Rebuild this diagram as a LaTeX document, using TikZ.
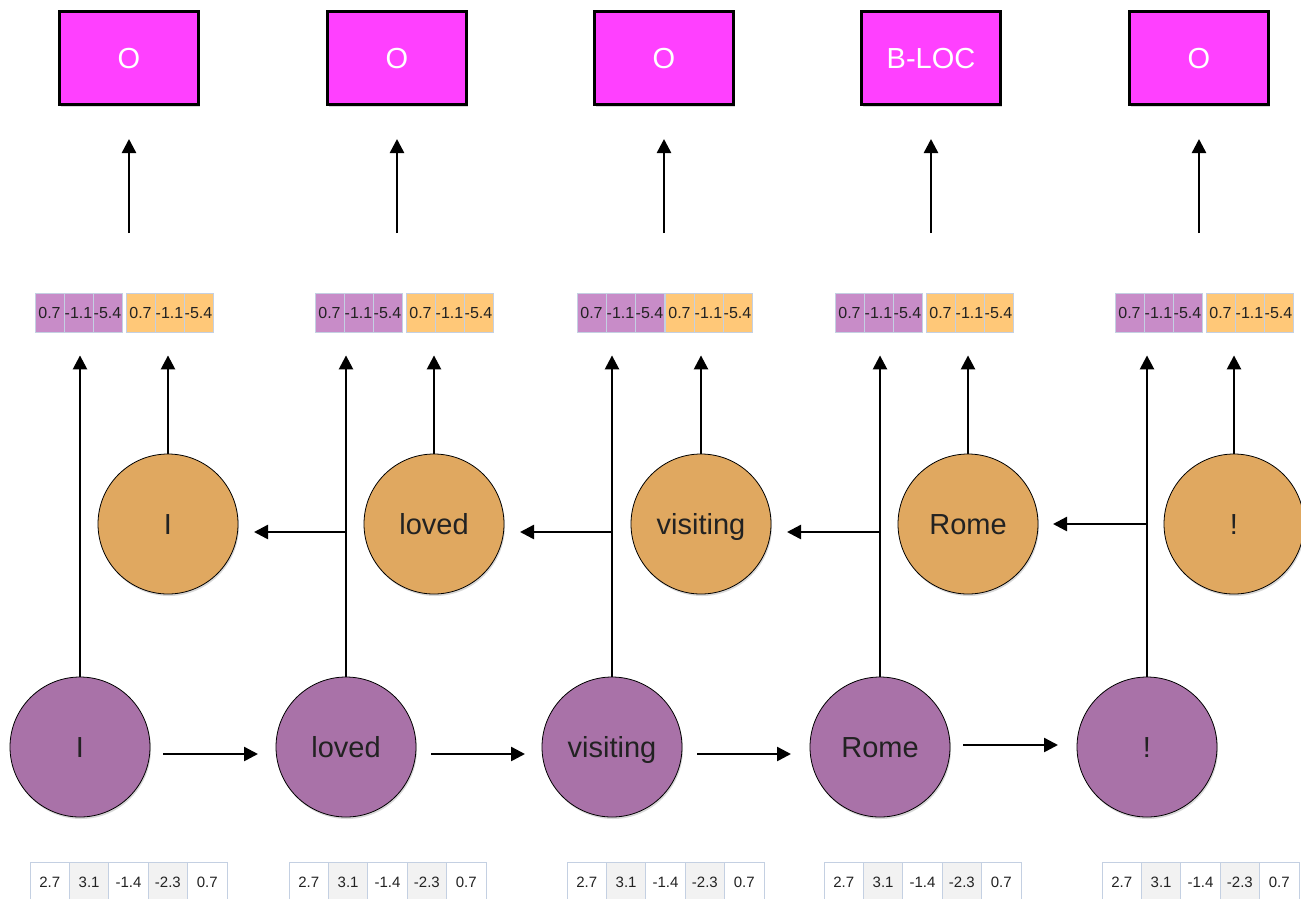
\documentclass[tikz,border=0pt]{standalone}
\usepackage{fontspec}
\setmainfont{Liberation Sans}
\usetikzlibrary{arrows.meta,shadows}
\definecolor{tagmag}{HTML}{FF40FF}
\definecolor{fwd}{HTML}{A972A8}
\definecolor{bwd}{HTML}{E0A860}
\definecolor{fcell}{HTML}{C88CC8}
\definecolor{bcell}{HTML}{FFC878}
\definecolor{cellline}{HTML}{C4D0E2}
\definecolor{graycell}{HTML}{F2F2F2}
\definecolor{txt}{HTML}{222222}
\begin{document}
\begin{tikzpicture}[x=1pt,y=-1pt,
  shad/.style={drop shadow={opacity=0.3,shadow xshift=1pt,shadow yshift=-2pt}},
  bigtext/.style={font=\fontsize{29}{32}\selectfont,text height=20.8pt,text depth=0pt},
  tagbox/.style={draw=black,line width=3pt,fill=tagmag,minimum width=139pt,minimum height=93pt,inner sep=0pt,text=white,bigtext,shad},
  fcirc/.style={circle,draw=black,line width=0.8pt,fill=fwd,minimum size=140pt,inner sep=0pt,text=txt,bigtext,shad},
  bcirc/.style={circle,draw=black,line width=0.8pt,fill=bwd,minimum size=140pt,inner sep=0pt,text=txt,bigtext,shad},
  vcell/.style={draw=cellline,line width=0.8pt,minimum width=29pt,minimum height=39pt,inner sep=0pt,text=txt,font=\fontsize{16}{18}\selectfont,text height=11.5pt,text depth=0pt},
  ecell/.style={draw=cellline,line width=0.8pt,minimum width=39.4pt,minimum height=40pt,inner sep=0pt,text=txt,font=\fontsize{15}{17}\selectfont,text height=10.7pt,text depth=0pt},
  conn/.style={line width=2.5pt,-{Triangle[length=14pt,width=14pt]}}
]
\useasboundingbox[fill=white] (0,0) rectangle (1301,898);

% tag boxes
\foreach \x/\t [count=\i] in {129/O,397/O,664/O,931/B-LOC,1199/O}{
  \node[tagbox] (t\i) at (\x,58) {\t};
  \coordinate (ta\i) at (\x,233);
  \draw[conn,shorten >=33pt] (ta\i) -- (t\i.south);
}

% concatenated vectors
\foreach \lp/\lo [count=\i] in {35/126,315/406,577/665,835/926,1115/1206}{
  \foreach \v [count=\k] in {0.7,-1.1,-5.4}{
    \node[vcell,fill=fcell] (p\i\k) at ({\lp+14.5+29*(\k-1)},312.5) {\makebox[0pt]{\v}};
    \node[vcell,fill=bcell] (q\i\k) at ({\lo+14.5+29*(\k-1)},312.5) {\makebox[0pt]{\v}};
  }
}

% backward circles
\foreach \x/\w [count=\i] in {168/I,434/loved,701/visiting,968/Rome,1234/!}{
  \node[bcirc] (o\i) at (\x,524) {\w};
  \draw[conn,shorten >=23pt] (o\i.north) -- (o\i.north |- q\i1.south);
}

% forward circles
\foreach \x/\w [count=\i] in {80/I,346/loved,612/visiting,880/Rome,1147/!}{
  \node[fcirc] (f\i) at (\x,747) {\w};
  \draw[conn,shorten >=23pt] (f\i.north) -- (f\i.north |- p\i1.south);
}

% forward arrows
\foreach \a/\b/\y [count=\i] in {163/258/754,431/525/754,697/791/754,963/1058/745}{
  \coordinate (fs\i) at (\a,\y);
  \coordinate (fe\i) at (\b,\y);
  \draw[conn] (fs\i) -- (fe\i);
}

% backward arrows (start on the forward vertical lines)
\foreach \a/\b/\y [count=\i] in {346/254/532,612/520/532,880/787/532,1147/1053/524}{
  \coordinate (bs\i) at (\a,\y);
  \coordinate (be\i) at (\b,\y);
  \draw[conn] (bs\i) -- (be\i);
}

% embedding vectors
\foreach \l [count=\i] in {30,289,567,824,1102}{
  \foreach \v/\c [count=\k] in {2.7/white,3.1/graycell,-1.4/white,-2.3/graycell,0.7/white}{
    \node[ecell,fill=\c] (e\i\k) at ({\l+19.7+39.4*(\k-1)},882) {\v};
  }
}
\end{tikzpicture}
\end{document}
